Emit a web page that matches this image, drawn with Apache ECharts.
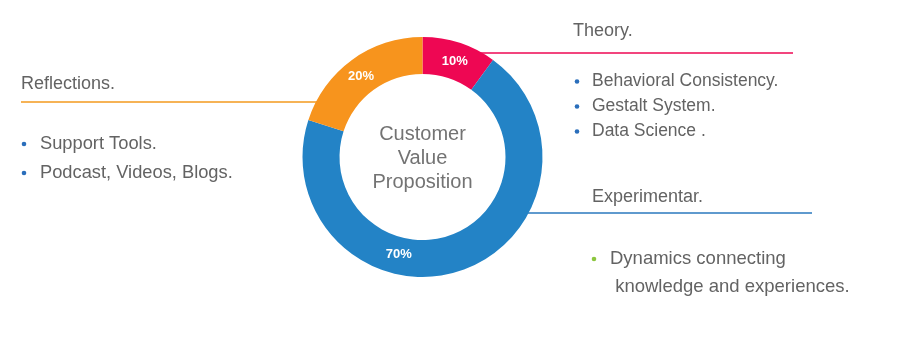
<!DOCTYPE html>
<html>
<head>
<meta charset="utf-8">
<style>
  html, body { margin: 0; padding: 0; background: #fff; }
  #chart { width: 906px; height: 342px; }
</style>
<script src="https://cdn.jsdelivr.net/npm/echarts@6/dist/echarts.min.js"></script>
</head>
<body>
<div id="chart"></div>
<script>
// Ring segments, clockwise from 12 o'clock
const segments = ['Theory', 'Experimentar', 'Reflections'];
const shares = [10, 70, 20];
const segmentColors = ['#EE0753', '#2383C6', '#F7941D'];

const centerTitle = ['Customer', 'Value', 'Proposition'];

// Side notes for each segment
const reflectionsTitle = 'Reflections.';
const reflectionsItems = ['Support Tools.', 'Podcast, Videos, Blogs.'];
const theoryTitle = 'Theory.';
const theoryItems = ['Behavioral Consistency.', 'Gestalt System.', 'Data Science .'];
const experimentarTitle = 'Experimentar.';
const experimentarItems = ['Dynamics connecting', ' knowledge and experiences.'];

const FONT = '"Liberation Sans", Arial, sans-serif';
const TEXT_GRAY = '#636363';

const chart = echarts.init(document.getElementById('chart'), null, { renderer: 'canvas' });

function heading(text, x, y) {
  return { type: 'text', x, y, z: 1,
    style: { text, fill: TEXT_GRAY, font: '18px ' + FONT, textVerticalAlign: 'middle' } };
}
function rule(x1, x2, y, color) {
  return { type: 'line', z: 0,
    shape: { x1, y1: y, x2, y2: y },
    style: { stroke: color, lineWidth: 1.6 } };
}
function bulletList(items, dotX, textX, y0, step, dotColor, size, firstOnly) {
  const out = [];
  items.forEach((t, i) => {
    const y = y0 + i * step;
    if (i === 0 || !firstOnly) {
      out.push({ type: 'circle', z: 1, shape: { cx: dotX, cy: y, r: 2.3 }, style: { fill: dotColor } });
    }
    out.push({ type: 'text', x: textX, y, z: 1,
      style: { text: t, fill: TEXT_GRAY, font: size + 'px ' + FONT, textVerticalAlign: 'middle' } });
  });
  return out;
}

const graphics = [].concat(
  [heading(reflectionsTitle, 21, 84), rule(21, 340, 102, '#F39A1E')],
  bulletList(reflectionsItems, 24, 40, 144, 29, '#2A6EBB', 18.3, false),
  [heading(theoryTitle, 573, 31), rule(470, 793, 53, '#EE0753')],
  bulletList(theoryItems, 577, 592, 81.5, 25, '#2A6EBB', 17.5, false),
  [heading(experimentarTitle, 592, 197), rule(510, 812, 213, '#2A78BE')],
  bulletList(experimentarItems, 594, 610, 259, 28, '#8CC63F', 18.5, true),
  [{
    type: 'text', x: 422.5, y: 158, z: 3,
    style: {
      text: centerTitle.join('\n'), fill: '#737373', font: '20px ' + FONT,
      textAlign: 'center', textVerticalAlign: 'middle', lineHeight: 24
    }
  }]
);

chart.setOption({
  animation: false,
  graphic: { elements: graphics },
  series: [{
    type: 'pie',
    center: [422.5, 157],
    radius: [83, 120],
    startAngle: 90,
    clockwise: true,
    silent: true,
    avoidLabelOverlap: false,
    label: {
      show: true,
      position: 'inside',
      formatter: '{c}%',
      color: '#fff',
      fontFamily: FONT,
      fontWeight: 'bold',
      fontSize: 13
    },
    labelLine: { show: false },
    // nudge labels: the large segment's label sits lower-left of its arc midpoint
    labelLayout: function (p) {
      if (p.dataIndex === 1) return { dx: -56, dy: -2 };
      return { dy: 4 };
    },
    itemStyle: { borderWidth: 0 },
    data: segments.map((name, i) => ({
      name, value: shares[i], itemStyle: { color: segmentColors[i] }
    }))
  }]
});
</script>
</body>
</html>
